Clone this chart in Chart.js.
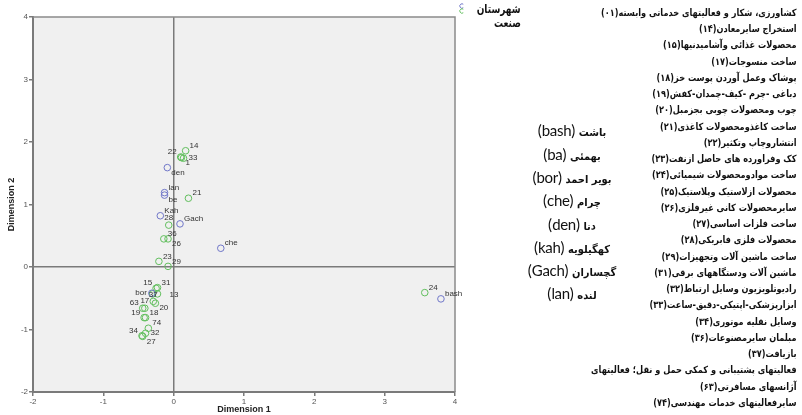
<!DOCTYPE html>
<html>
<head>
<meta charset="utf-8">
<script src="https://cdn.jsdelivr.net/npm/chart.js@4"></script>
<style>
  body { margin: 0; background: #fff; }
  #wrap { position: relative; width: 802px; height: 415px; overflow: hidden; }
  #chart { position: absolute; left: 0; top: 0; }
  .rtl { position: absolute; direction: rtl; white-space: nowrap; color: #111; }
  #legend div { font: bold 12px 'DejaVu Sans', sans-serif; transform: scaleX(0.75); transform-origin: right center; }
  #counties { left: 502px; width: 140px; text-align: center; font: 15px Lato, 'DejaVu Sans', sans-serif; letter-spacing: -0.3px; }
  #counties div { height: 23.3px; line-height: 23.3px; }
  #counties .fa { font: bold 11px 'DejaVu Sans', sans-serif; font-stretch: condensed; letter-spacing: 0; }
  #sectors { right: 5px; text-align: right; font: bold 10px 'DejaVu Sans', sans-serif; transform: scaleX(0.82); transform-origin: right top; }
  #sectors div { height: 16.25px; line-height: 16.25px; }
</style>
</head>
<body>
<div id="wrap">
  <canvas id="chart" width="802" height="415"></canvas>
  <div id="legend"></div>
  <div id="counties" class="rtl"></div>
  <div id="sectors" class="rtl"></div>
</div>
<script>
// axis ticks
const xTicks = [-2, -1, 0, 1, 2, 3, 4];
const yTicks = [-2, -1, 0, 1, 2, 3, 4];

// counties (شهرستان)
const countyLabels = ['bash', 'be', 'bor', 'che', 'den', 'Kah', 'Gach', 'lan'];
const countyX = [3.80, -0.13, -0.31, 0.67, -0.09, -0.19, 0.09, -0.13];
const countyY = [-0.51, 1.15, -0.42, 0.30, 1.59, 0.82, 0.69, 1.19];
const countyAnchor = ['ne', 'se', 'w', 'ne', 'se', 'ne', 'ne', 'ne'];

// industries (صنعت)
const sectorLabels = ['1', '14', '15', '17', '18', '19', '20', '21', '22', '23', '24', '25', '26', '27', '28', '29', '31', '32', '33', '34', '36', '37', '63', '74', '13'];
const sectorX = [0.11, 0.17, -0.25, -0.41, -0.40, -0.42, -0.26, 0.21, 0.10, -0.21, 3.57, -0.30, -0.08, -0.44, -0.07, -0.08, -0.23, -0.40, 0.14, -0.45, -0.14, -0.29, -0.44, -0.36, -0.23];
const sectorY = [1.75, 1.86, -0.34, -0.66, -0.81, -0.81, -0.58, 1.10, 1.76, 0.09, -0.41, -0.43, 0.45, -1.11, 0.67, 0.01, -0.33, -1.06, 1.74, -1.10, 0.45, -0.55, -0.66, -0.98, -0.43];
const sectorAnchor = ['se', 'ne', 'nw', 'n', 'ne', 'nw', 'se', 'ne', 'nw', 'ne', 'ne', 'none', 'se', 'se', 'n', 'ne', 'ne', 'e', 'e', 'nw', 'ne', 'n', 'nw', 'ne', 'far'];

// legend and side texts
const legendNames = ['شهرستان', 'صنعت'];
const countyNamesFa = ['باشت', 'بهمئی', 'بویر احمد', 'چرام', 'دنا', 'کهگیلویه', 'گچساران', 'لنده'];
const countyCodes = ['(bash)', '(ba)', '(bor)', '(che)', '(den)', '(kah)', '(Gach)', '(lan)'];
const sectorNames = [
    'کشاورزی، شکار و فعالیتهای خدماتی وابسته(۰۱)',
    'استخراج سایرمعادن(۱۴)',
    'محصولات غذائی وآشامیدنیها(۱۵)',
    'ساخت منسوجات(۱۷)',
    'پوشاک وعمل آوردن پوست خز(۱۸)',
    'دباغی -چرم -کیف-چمدان-کفش(۱۹)',
    'چوب ومحصولات چوبی بجزمبل(۲۰)',
    'ساخت کاغذومحصولات کاغذی(۲۱)',
    'انتشاروچاپ وتکثیر(۲۲)',
    'کک وفراورده های حاصل ازنفت(۲۳)',
    'ساخت موادومحصولات شیمیائی(۲۴)',
    'محصولات ازلاستیک وپلاستیک(۲۵)',
    'سایرمحصولات کانی غیرفلزی(۲۶)',
    'ساخت فلزات اساسی(۲۷)',
    'محصولات فلزی فابریکی(۲۸)',
    'ساخت ماشین آلات وتجهیزات(۲۹)',
    'ماشین آلات ودستگاههای برقی(۳۱)',
    'رادیوتلویزیون وسایل ارتباط(۳۲)',
    'ابزارپزشکی-اپتیکی-دقیق-ساعت(۳۳)',
    'وسایل نقلیه موتوری(۳۴)',
    'مبلمان سایرمصنوعات(۳۶)',
    'بازیافت(۳۷)',
    'فعالیتهای پشتیبانی و کمکی حمل و نقل؛ فعالیتهای',
    'آژانسهای مسافرتی(۶۳)',
    'سایرفعالیتهای خدمات مهندسی(۷۴)'
];

const BLUE = '#7077c9';
const GREEN = '#62bf5e';

function toPoints(xs, ys, labels, anchors) {
    return xs.map((x, i) => ({ x, y: ys[i], label: labels[i], anchor: anchors[i] }));
}

// offsets for point labels
const anchorOffsets = {
    ne: [4, -5, 'left'], nw: [-4, -5, 'right'], se: [4, 5, 'left'], sw: [-4, 5, 'right'],
    e: [5, 0, 'left'], w: [-5, 0, 'right'], n: [0, -7, 'center'], s: [0, 7, 'center'],
    far: [12, 1, 'left']
};

const plotBox = {
    id: 'plotBox',
    beforeDraw(chart) {
        const { ctx, chartArea: a } = chart;
        ctx.save();
        ctx.fillStyle = '#f0f0f0';
        ctx.fillRect(a.left, a.top, a.right - a.left, a.bottom - a.top);
        ctx.restore();
    },
    afterDraw(chart) {
        const { ctx, chartArea: a } = chart;
        ctx.save();
        ctx.strokeStyle = '#8a8a8a';
        ctx.lineWidth = 1.5;
        ctx.beginPath();
        ctx.moveTo(a.left, a.top);
        ctx.lineTo(a.right, a.top);
        ctx.lineTo(a.right, a.bottom);
        ctx.stroke();

        // point labels
        ctx.font = '8px "Liberation Sans", Arial, sans-serif';
        ctx.fillStyle = '#333';
        ctx.textBaseline = 'middle';
        chart.data.datasets.forEach((ds, di) => {
            const meta = chart.getDatasetMeta(di);
            meta.data.forEach((el, i) => {
                const p = ds.data[i];
                const off = anchorOffsets[p.anchor];
                if (!off) return;
                ctx.textAlign = off[2];
                ctx.fillText(p.label, el.x + off[0], el.y + off[1]);
            });
        });

        // legend markers
        ctx.lineWidth = 1;
        [BLUE, GREEN].forEach((c, i) => {
            ctx.strokeStyle = c;
            ctx.beginPath();
            ctx.arc(462, 6 + i * 5, 2.2, 0.3 * Math.PI, 1.7 * Math.PI);
            ctx.stroke();
        });
        ctx.restore();
    }
};

const axisCommon = {
    type: 'linear',
    min: -2,
    max: 4,
    border: { color: '#7a7a7a', width: 2 },
    grid: {
        color: c => (c.tick && c.tick.value === 0 ? '#7a7a7a' : 'rgba(0,0,0,0)'),
        lineWidth: 1.5,
        tickColor: '#7a7a7a',
        tickLength: 4,
        drawOnChartArea: true
    },
    ticks: { font: { size: 8, family: 'Liberation Sans' }, color: '#555', padding: 1 },
    title: { display: true, font: { size: 9, weight: 'bold', family: 'Liberation Sans' }, color: '#222' }
};

new Chart(document.getElementById('chart'), {
    type: 'scatter',
    data: {
        datasets: [
            { label: legendNames[0], data: toPoints(countyX, countyY, countyLabels, countyAnchor),
              borderColor: BLUE, backgroundColor: 'rgba(0,0,0,0)', pointRadius: 3.3, borderWidth: 1 },
            { label: legendNames[1], data: toPoints(sectorX, sectorY, sectorLabels, sectorAnchor),
              borderColor: GREEN, backgroundColor: 'rgba(0,0,0,0)', pointRadius: 3.3, borderWidth: 1 }
        ]
    },
    options: {
        responsive: false,
        animation: false,
        layout: { padding: { left: 6, right: 347, top: 17, bottom: 0 } },
        plugins: { legend: { display: false }, tooltip: { enabled: false } },
        scales: {
            x: Object.assign({}, axisCommon, {
                afterBuildTicks: s => { s.ticks = xTicks.map(v => ({ value: v })); },
                afterFit: s => { s.height = 23; },
                title: Object.assign({}, axisCommon.title, { text: 'Dimension 1', padding: { top: 0, bottom: 0 } })
            }),
            y: Object.assign({}, axisCommon, {
                afterBuildTicks: s => { s.ticks = yTicks.map(v => ({ value: v })); },
                afterFit: s => { s.width = 27; },
                title: Object.assign({}, axisCommon.title, { text: 'Dimension 2', padding: { top: 0, bottom: 2 } })
            })
        }
    },
    plugins: [plotBox]
});

// side texts
const legendDiv = document.getElementById('legend');
legendNames.forEach((t, i) => {
    const d = document.createElement('div');
    d.className = 'rtl';
    d.style.right = (802 - 521) + 'px';
    d.style.top = (2 + i * 14) + 'px';
    d.textContent = t;
    legendDiv.appendChild(d);
});

const countyDiv = document.getElementById('counties');
countyDiv.style.top = (131 - 11.65) + 'px';
countyNamesFa.forEach((t, i) => {
    const d = document.createElement('div');
    const fa = document.createElement('span');
    fa.className = 'fa';
    fa.textContent = t + ' ';
    d.appendChild(fa);
    d.appendChild(document.createTextNode(countyCodes[i]));
    countyDiv.appendChild(d);
});

const sectorDiv = document.getElementById('sectors');
sectorDiv.style.top = (13 - 8.1) + 'px';
sectorNames.forEach(t => {
    const d = document.createElement('div');
    d.textContent = t;
    sectorDiv.appendChild(d);
});
</script>
</body>
</html>
